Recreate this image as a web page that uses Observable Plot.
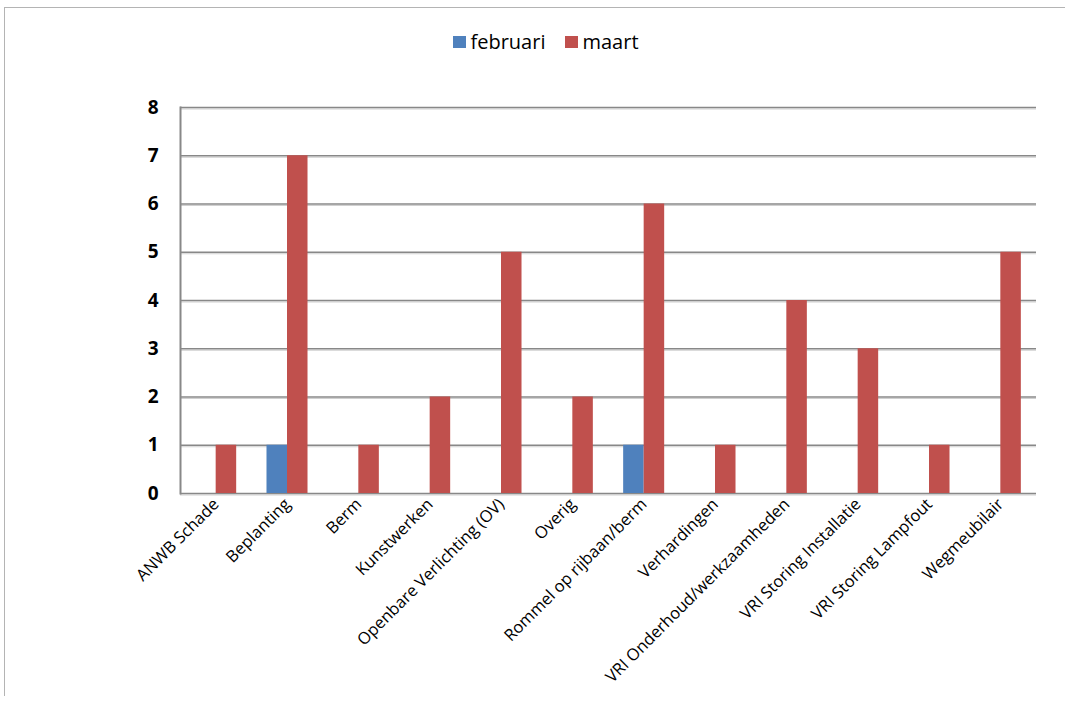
<!DOCTYPE html>
<html>
<head>
<meta charset="utf-8">
<script src="https://cdn.jsdelivr.net/npm/d3@7"></script>
<script src="https://cdn.jsdelivr.net/npm/@observablehq/plot@0.6"></script>
<style>
  html, body { margin: 0; padding: 0; background: #fff; }
  body { width: 1065px; height: 702px; position: relative; overflow: hidden; font-family: "Open Sans", sans-serif; }
  #frame { position: absolute; left: 4px; top: 7px; right: -2px; bottom: 6px; border-top: 1px solid #b4b4b4; border-left: 1px solid #b4b4b4; }
  #legend { position: absolute; top: 28px; left: 0; width: 1092px; display: flex; justify-content: center; align-items: center; font-size: 20px; color: #000; }
  .item { display: flex; align-items: center; margin: 0 10px; }
  .sw { width: 13px; height: 12px; margin-right: 4px; }
  #chart { position: absolute; left: 0; top: 70px; }
</style>
</head>
<body>
<div id="frame"></div>
<div id="legend"></div>
<div id="chart"></div>
<script>
const categories = [
  "ANWB Schade", "Beplanting", "Berm", "Kunstwerken", "Openbare Verlichting (OV)",
  "Overig", "Rommel op rijbaan/berm", "Verhardingen", "VRI Onderhoud/werkzaamheden",
  "VRI Storing Installatie", "VRI Storing Lampfout", "Wegmeubilair"
];
const series = ["februari", "maart"];
const februari = [0, 1, 0, 0, 0, 0, 1, 0, 0, 0, 0, 0];
const maart = [1, 7, 1, 2, 5, 2, 6, 1, 4, 3, 1, 5];
const yTicks = [0, 1, 2, 3, 4, 5, 6, 7, 8];
const colors = {februari: "#4F81BD", maart: "#C0504D"};

const W = 1065, H = 632;
const mL = 180, mR = 29, mT = 37, mB = 209;
const padInner = 0.7125;
const bw = (W - mL - mR) / categories.length * (1 - padInner);

const febData = categories.map((c, i) => ({category: c, value: februari[i]}));
const maartData = categories.map((c, i) => ({category: c, value: maart[i]}));

const legend = document.getElementById("legend");
for (const s of series) {
  const it = document.createElement("div");
  it.className = "item";
  it.innerHTML = `<span class="sw" style="background:${colors[s]}"></span><span>${s}</span>`;
  legend.appendChild(it);
}

const chart = Plot.plot({
  width: W,
  height: H,
  marginLeft: mL,
  marginRight: mR,
  marginTop: mT,
  marginBottom: mB,
  style: {fontFamily: "Open Sans, sans-serif", color: "#000", background: "transparent"},
  x: {domain: categories, paddingInner: padInner, paddingOuter: padInner / 2, round: false, label: null},
  y: {domain: [0, 8], label: null},
  marks: [
    Plot.ruleY(yTicks, {stroke: "#d0d0d0", strokeWidth: 1, dy: 1.5}),
    Plot.ruleY(yTicks, {stroke: "#888888", strokeWidth: 1.6}),
    Plot.frame({anchor: "left", stroke: "#888888", strokeWidth: 2}),
    Plot.barY(febData, {x: "category", y: "value", fill: colors.februari, dx: -bw / 2}),
    Plot.barY(maartData, {x: "category", y: "value", fill: colors.maart, dx: bw / 2}),
    Plot.axisY({ticks: yTicks, tickSize: 0, tickPadding: 22, fontSize: 19, fontWeight: "bold", tickFormat: d => String(d)}),
    Plot.axisX({tickSize: 0, tickRotate: -45, tickPadding: 4, fontSize: 16.5, fontWeight: 500, dx: 0, dy: 4})
  ]
});
document.getElementById("chart").appendChild(chart);
</script>
</body>
</html>
